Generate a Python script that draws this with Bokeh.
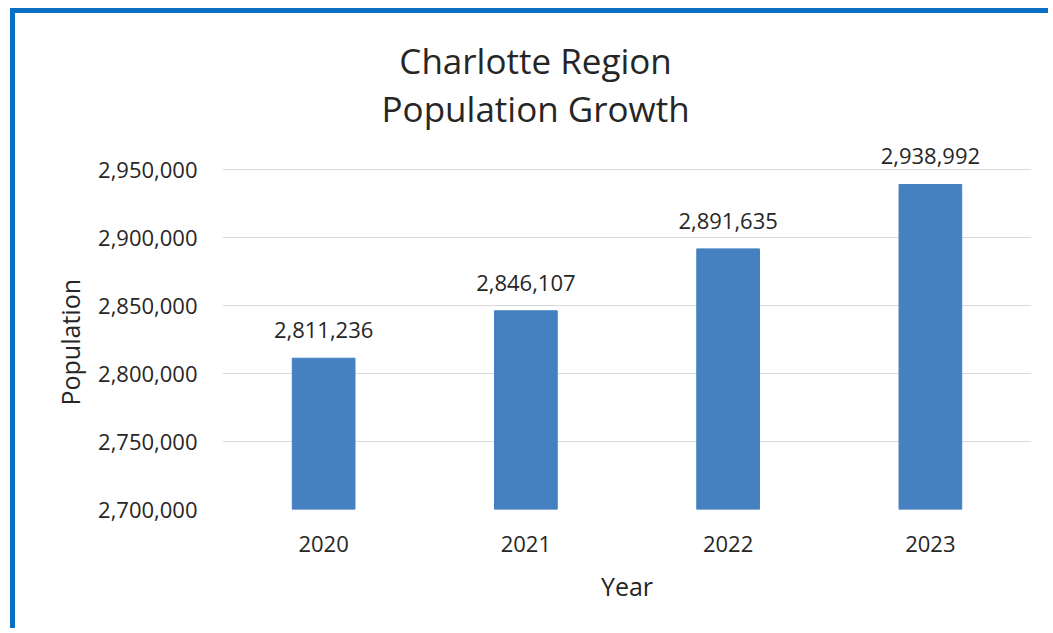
from bokeh.plotting import figure
from bokeh.models import (ColumnDataSource, NumeralTickFormatter, LabelSet, Label, Range1d,
                          FixedTicker, Title)
from bokeh.core.properties import value
from bokeh.embed import file_html
from bokeh.resources import INLINE

years = ["2020", "2021", "2022", "2023"]
population = [2811236, 2846107, 2891635, 2938992]
labels = ["2,811,236", "2,846,107", "2,891,635", "2,938,992"]
y_ticks = [2700000, 2750000, 2800000, 2850000, 2900000, 2950000]
title_lines = ["Charlotte Region", "Population Growth"]
y_title = "Population"
x_title = "Year"

FONT = "Open Sans"
TXT = "#262626"
src = ColumnDataSource(dict(x=years, top=population, lab=labels))

# vertical scale: 50,000 people per 68 px; frame extends above the top tick so labels/title fit
PX = 50000 / 68.0
y_lo = 2700000
y_hi = y_lo + 491 * PX

p = figure(x_range=years, y_range=Range1d(y_lo, y_hi),
           width=1038, height=620, output_backend="svg", toolbar_location=None,
           min_border_left=207, min_border_right=22, min_border_top=5, min_border_bottom=124)
p.margin = (8, 0, 0, 10)
p.styles = {"border-left": "5px solid #0A6FC2", "border-top": "5px solid #0A6FC2"}

p.vbar(x="x", top="top", bottom=y_lo, width=0.31, source=src, color="#4580C0")
p.add_layout(LabelSet(x="x", y="top", text="lab", source=src, text_align="center",
                      text_baseline="middle", y_offset=28, text_font=value(FONT),
                      text_font_size="22px", text_color=TXT))

for i, t in enumerate(title_lines):
    p.add_layout(Label(x=1.548, y=y_lo + (449 - 48 * i) * PX, text=t, text_align="center",
                       text_baseline="middle", text_font=FONT, text_font_size="35px",
                       text_color=TXT))

p.yaxis.ticker = FixedTicker(ticks=y_ticks)
p.yaxis.formatter = NumeralTickFormatter(format="0,0")
p.xaxis.axis_label = x_title
for ax in (p.xaxis, p.yaxis):
    ax.axis_line_color = None
    ax.major_tick_line_color = None
    ax.minor_tick_line_color = None
    ax.major_tick_out = 0
    ax.major_tick_in = 0
    ax.major_label_text_font = FONT
    ax.major_label_text_font_size = "22px"
    ax.major_label_text_color = TXT
    ax.axis_label_text_font = FONT
    ax.axis_label_text_font_size = "25px"
    ax.axis_label_text_font_style = "normal"
    ax.axis_label_text_color = TXT
p.yaxis.major_label_standoff = 25
p.xaxis.major_label_standoff = 26
p.xaxis.axis_label_standoff = 14

# y-axis title as a side title, starting from the bottom and shifted up
p.add_layout(Title(text=y_title, align="left", offset=104, standoff=18,
                   text_font=FONT, text_font_size="25px", text_font_style="normal",
                   text_color=TXT), "left")

p.xgrid.grid_line_color = None
p.ygrid.grid_line_color = "#D9D9D9"
p.ygrid.grid_line_width = 1
p.outline_line_color = None
p.x_range.range_padding = 0.0

open("out.html", "w").write(file_html(p, INLINE))
